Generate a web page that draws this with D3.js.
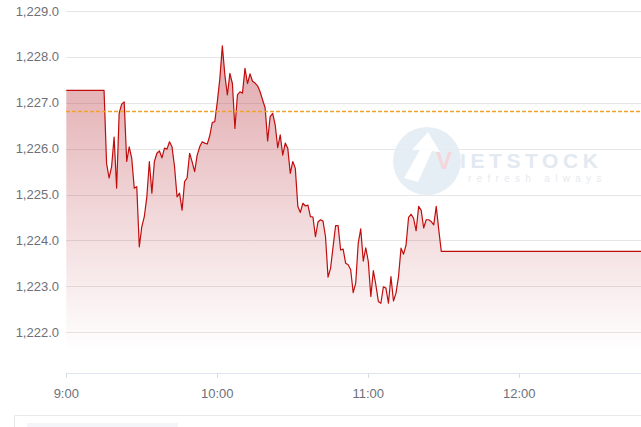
<!DOCTYPE html>
<html>
<head>
<meta charset="utf-8">
<script src="https://cdn.jsdelivr.net/npm/d3@7/dist/d3.min.js"></script>
<style>
  html, body { margin: 0; padding: 0; background: #ffffff; }
  svg { display: block; font-family: "Liberation Sans", Arial, sans-serif; }
</style>
</head>
<body>
<svg id="chart" width="641" height="427"></svg>
<script>
// ---- data ----
const yTicks = [1222, 1223, 1224, 1225, 1226, 1227, 1228, 1229];
const xTickLabels = ["9:00", "10:00", "11:00", "12:00"];
const referencePrice = 1226.81;

const times = [
  "9:00",
  "9:15","9:16","9:17","9:18","9:19","9:20","9:21","9:22","9:23","9:24",
  "9:25","9:26","9:27","9:28","9:29","9:30","9:31","9:32","9:33","9:34",
  "9:35","9:36","9:37","9:38","9:39","9:40","9:41","9:42","9:43","9:44",
  "9:45","9:46","9:47","9:48","9:49","9:50","9:51","9:52","9:53","9:54",
  "9:55","9:56","9:57","9:58","9:59",
  "10:00","10:01","10:02","10:03","10:04","10:05","10:06","10:07","10:08","10:09",
  "10:10","10:11","10:12","10:13","10:14","10:15","10:16","10:17","10:18","10:19",
  "10:20","10:21","10:22","10:23","10:24","10:25","10:26","10:27","10:28","10:29",
  "10:30","10:31","10:32","10:33","10:34","10:35","10:36","10:37","10:38","10:39",
  "10:40","10:41","10:42","10:43","10:44","10:45","10:46","10:47","10:48","10:49",
  "10:50","10:51","10:52","10:53","10:54","10:55","10:56","10:57","10:58","10:59",
  "11:00","11:01","11:02","11:03","11:04","11:05","11:06","11:07","11:08","11:09",
  "11:10","11:11","11:12","11:13","11:14","11:15","11:16","11:17","11:18","11:19",
  "11:20","11:21","11:22","11:23","11:24","11:25","11:26","11:27","11:28","11:29",
  "13:00"
];

const prices = [
  1227.27,
  1227.27,1225.68,1225.36,1225.61,1226.25,1225.14,1226.77,1226.97,1227.02,1225.72,
  1226.04,1225.79,1225.14,1225.17,1223.86,1224.30,1224.52,1224.95,1225.72,1225.03,
  1225.72,1225.90,1225.95,1225.80,1226.01,1225.99,1226.15,1226.04,1225.61,1224.95,
  1225.03,1224.66,1225.28,1225.36,1225.90,1225.71,1225.50,1225.86,1226.04,1226.15,
  1226.12,1226.10,1226.28,1226.57,1226.59,
  1227.02,1227.52,1228.24,1227.61,1227.17,1227.64,1227.42,1226.44,1227.17,1227.24,
  1227.21,1227.75,1227.42,1227.63,1227.47,1227.43,1227.37,1227.24,1227.06,1226.89,
  1226.17,1226.70,1226.77,1226.52,1226.02,1226.30,1225.86,1226.12,1226.01,1225.46,
  1225.72,1225.57,1224.74,1224.61,1224.81,1224.75,1224.77,1224.52,1224.51,1224.08,
  1224.40,1224.45,1224.42,1224.08,1223.20,1223.39,1223.86,1224.32,1224.32,1223.79,
  1223.81,1223.50,1223.47,1223.36,1222.86,1223.07,1223.94,1224.25,1223.55,1223.84,
  1223.54,1222.78,1223.34,1223.03,1222.67,1222.63,1222.99,1222.96,1222.63,1223.21,
  1222.68,1222.85,1223.21,1223.83,1223.70,1223.90,1224.50,1224.57,1224.48,1224.21,
  1224.74,1224.66,1224.27,1224.45,1224.45,1224.41,1224.34,1224.74,1224.23,1223.76,
  1223.76
];

// ---- layout ----
const W = 641, H = 427;
const plotLeft = 66, plotRight = 641, plotTop = 11, plotBottom = 373;

const parseT = s => { const [h, m] = s.split(":").map(Number); return h * 60 + m; };
const data = times.map((t, i) => ({ t: parseT(t), v: prices[i] }));

const x = d3.scaleLinear()
  .domain([parseT("9:00"), parseT("13:00")])
  .range([66.3, 66.3 + 151 * 4]);
const y = d3.scaleLinear()
  .domain([1221.11, 1229])
  .range([plotBottom, plotTop]);

const svg = d3.select("#chart");

const defs = svg.append("defs");
const grad = defs.append("linearGradient")
  .attr("id", "areaGrad")
  .attr("gradientUnits", "userSpaceOnUse")
  .attr("x1", 0).attr("x2", 0)
  .attr("y1", y(1228.4)).attr("y2", y(1221.6));
grad.append("stop").attr("offset", "0").attr("stop-color", "rgb(180,40,50)").attr("stop-opacity", 0.42);
grad.append("stop").attr("offset", "1").attr("stop-color", "rgb(180,40,50)").attr("stop-opacity", 0);

defs.append("clipPath").attr("id", "plotClip")
  .append("rect").attr("x", plotLeft).attr("y", 0).attr("width", plotRight - plotLeft).attr("height", plotBottom);

// grid lines + y labels
const gridG = svg.append("g");
gridG.selectAll("line").data(yTicks).join("line")
  .attr("x1", plotLeft).attr("x2", plotRight)
  .attr("y1", d => Math.round(y(d)) + 0.5).attr("y2", d => Math.round(y(d)) + 0.5)
  .attr("stroke", "#e6e6e6").attr("stroke-width", 1);

const fmt = d3.format(",.1f");
svg.append("g").selectAll("text").data(yTicks).join("text")
  .attr("x", 59).attr("y", d => y(d))
  .attr("dy", "0.35em")
  .attr("text-anchor", "end")
  .attr("font-size", 13)
  .attr("fill", "#6e7079")
  .text(d => fmt(d));

// watermark
const wm = svg.append("g").attr("opacity", 0.9);
wm.append("circle").attr("cx", 427).attr("cy", 161).attr("r", 34).attr("fill", "#e4edf5");
wm.append("path")
  .attr("d", "M404,178 L420,150 L412,150 L428,132 L440,152 L432,151 L418,182 Z")
  .attr("fill", "#ffffff");
wm.append("text").attr("x", 436).attr("y", 169).attr("font-size", 24).attr("font-weight", "bold")
  .attr("fill", "#f4d2d6").text("V");
wm.append("text").attr("x", 460).attr("y", 168).attr("font-size", 21).attr("font-weight", "bold")
  .attr("fill", "#dfe7ef").attr("letter-spacing", 4.6).text("IETSTOCK");
wm.append("text").attr("x", 468).attr("y", 182).attr("font-size", 10)
  .attr("fill", "#e6e9ee").attr("letter-spacing", 5.3).text("refresh always");

// area + line
const plot = svg.append("g").attr("clip-path", "url(#plotClip)");
const area = d3.area()
  .x(d => x(d.t)).y0(plotBottom).y1(d => y(d.v));
const line = d3.line()
  .x(d => x(d.t)).y(d => y(d.v));

plot.append("path").datum(data)
  .attr("d", area).attr("fill", "url(#areaGrad)");
plot.append("path").datum(data)
  .attr("d", line).attr("fill", "none")
  .attr("stroke", "#c00d0d").attr("stroke-width", 1.2)
  .attr("stroke-linejoin", "round");

// reference dashed line
svg.append("line")
  .attr("x1", plotLeft).attr("x2", plotRight)
  .attr("y1", y(referencePrice)).attr("y2", y(referencePrice))
  .attr("stroke", "#f0a32a").attr("stroke-width", 1.3)
  .attr("stroke-dasharray", "4,2");

// x axis
svg.append("line")
  .attr("x1", plotLeft).attr("x2", plotRight)
  .attr("y1", plotBottom + 0.5).attr("y2", plotBottom + 0.5)
  .attr("stroke", "#e0e6f1").attr("stroke-width", 1);
const xg = svg.append("g");
xg.selectAll("line").data(xTickLabels).join("line")
  .attr("x1", d => Math.round(x(parseT(d))) + 0.5).attr("x2", d => Math.round(x(parseT(d))) + 0.5)
  .attr("y1", plotBottom).attr("y2", plotBottom + 5)
  .attr("stroke", "#d6dbe6");
xg.selectAll("text").data(xTickLabels).join("text")
  .attr("x", d => x(parseT(d))).attr("y", 393)
  .attr("dy", "0.35em")
  .attr("text-anchor", "middle")
  .attr("font-size", 13)
  .attr("fill", "#6e7079")
  .text(d => d);

// bottom panel frame
svg.append("path")
  .attr("d", "M14.5,427 L14.5,415.5 L641,415.5")
  .attr("fill", "none").attr("stroke", "#e8e8ec");
svg.append("rect").attr("x", 27).attr("y", 423).attr("width", 151).attr("height", 4).attr("fill", "#f4f5f9");
</script>
</body>
</html>
